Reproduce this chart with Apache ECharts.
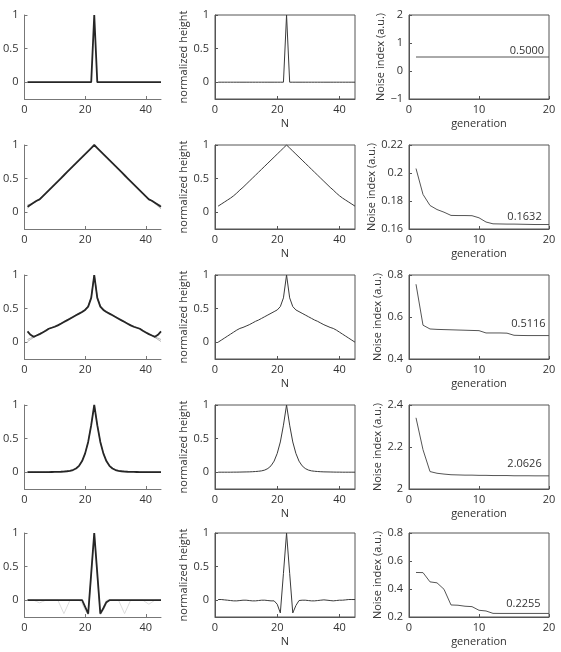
<!DOCTYPE html>
<html>
<head>
<meta charset="utf-8">
<script src="https://cdn.jsdelivr.net/npm/echarts@6/dist/echarts.min.js"></script>
<style>
html, body { margin: 0; padding: 0; background: #fff; }
#chart { width: 561px; height: 652px; }
</style>
</head>
<body>
<div id="chart"></div>
<script>
// sample index N and generation number
const nIdx = [1,2,3,4,5,6,7,8,9,10,11,12,13,14,15,16,17,18,19,20,21,22,23,24,25,26,27,28,29,30,31,32,33,34,35,36,37,38,39,40,41,42,43,44,45];
const genIdx = [1,2,3,4,5,6,7,8,9,10,11,12,13,14,15,16,17,18,19,20];

// tick labels
const ticksN = [0, 20, 40];
const ticksHeight = [0, 0.5, 1];
const ticksGen = [0, 10, 20];
const ticksNoise1 = [-1, 0, 1, 2];
const ticksNoise2 = [0.16, 0.18, 0.2, 0.22];
const ticksNoise3 = [0.4, 0.6, 0.8];
const ticksNoise4 = [2, 2.2, 2.4];
const ticksNoise5 = [0.2, 0.4, 0.6, 0.8];

// row 1 : delta
const best1 = [0,0,0,0,0,0,0,0,0,0,0,0,0,0,0,0,0,0,0,0,0,0,1,0,0,0,0,0,0,0,0,0,0,0,0,0,0,0,0,0,0,0,0,0,0];
const profile1 = [0,0,0,0,0,0,0,0,0,0,0,0,0,0,0,0,0,0,0,0,0,0,1,0,0,0,0,0,0,0,0,0,0,0,0,0,0,0,0,0,0,0,0,0,0];
const noise1 = [0.5,0.5,0.5,0.5,0.5,0.5,0.5,0.5,0.5,0.5,0.5,0.5,0.5,0.5,0.5,0.5,0.5,0.5,0.5,0.5];

// row 2 : triangle
const popA2 = [0.06,0.10,0.14,0.17,0.20,0.24,0.28,0.33,0.37,0.41,0.46,0.50,0.55,0.60,0.64,0.69,0.73,0.78,0.82,0.87,0.91,0.96,1.0,0.96,0.91,0.87,0.82,0.78,0.73,0.69,0.64,0.60,0.55,0.50,0.46,0.41,0.37,0.33,0.28,0.24,0.20,0.17,0.13,0.09,0.05];
const popB2 = [0.11,0.12,0.14,0.16,0.19,0.23,0.28,0.32,0.37,0.42,0.46,0.51,0.55,0.59,0.64,0.68,0.73,0.77,0.82,0.86,0.91,0.95,1.0,0.95,0.91,0.86,0.82,0.77,0.73,0.68,0.64,0.59,0.55,0.51,0.46,0.42,0.37,0.32,0.28,0.23,0.19,0.16,0.14,0.12,0.10];
const best2 = [0.08,0.11,0.14,0.17,0.19,0.235,0.28,0.325,0.37,0.415,0.46,0.505,0.55,0.595,0.64,0.685,0.73,0.775,0.82,0.865,0.91,0.955,1.0,0.955,0.91,0.865,0.82,0.775,0.73,0.685,0.64,0.595,0.55,0.505,0.46,0.415,0.37,0.325,0.28,0.235,0.19,0.17,0.14,0.11,0.08];
const profile2 = [0.09,0.12,0.15,0.18,0.21,0.245,0.285,0.33,0.37,0.415,0.46,0.505,0.55,0.595,0.64,0.685,0.73,0.775,0.82,0.865,0.91,0.955,1.0,0.955,0.91,0.865,0.82,0.775,0.73,0.685,0.64,0.595,0.55,0.505,0.46,0.415,0.37,0.33,0.285,0.245,0.21,0.18,0.15,0.12,0.09];
const noise2 = [0.2032,0.1847,0.1768,0.1739,0.1720,0.1697,0.1696,0.1696,0.1695,0.1680,0.1650,0.1637,0.1636,0.1635,0.1635,0.1634,0.1633,0.1632,0.1632,0.1632];

// row 3 : cusp
const popA3 = [0.01,0.04,0.07,0.10,0.12,0.145,0.17,0.20,0.215,0.23,0.25,0.275,0.30,0.325,0.35,0.375,0.40,0.425,0.455,0.49,0.54,0.67,1.0,0.67,0.54,0.49,0.455,0.425,0.40,0.375,0.35,0.325,0.30,0.275,0.25,0.23,0.215,0.20,0.17,0.145,0.12,0.10,0.07,0.04,0.01];
const popB3 = [0.04,0.06,0.08,0.105,0.13,0.15,0.18,0.205,0.22,0.24,0.26,0.28,0.31,0.33,0.36,0.38,0.41,0.43,0.46,0.49,0.54,0.66,1.0,0.66,0.54,0.49,0.46,0.43,0.41,0.38,0.36,0.33,0.31,0.28,0.26,0.24,0.22,0.205,0.18,0.15,0.13,0.105,0.08,0.06,0.04];
const best3 = [0.16,0.11,0.08,0.10,0.12,0.145,0.17,0.20,0.215,0.23,0.25,0.275,0.30,0.325,0.35,0.375,0.40,0.425,0.45,0.48,0.53,0.66,1.0,0.66,0.53,0.48,0.45,0.425,0.40,0.375,0.35,0.325,0.30,0.275,0.25,0.23,0.215,0.20,0.17,0.145,0.12,0.10,0.08,0.11,0.16];
const profile3 = [0.0,0.03,0.06,0.09,0.12,0.15,0.18,0.205,0.22,0.24,0.26,0.285,0.31,0.33,0.355,0.38,0.405,0.43,0.455,0.48,0.53,0.66,1.0,0.66,0.53,0.48,0.455,0.43,0.405,0.38,0.355,0.33,0.31,0.285,0.26,0.24,0.22,0.205,0.18,0.15,0.12,0.09,0.06,0.03,0.0];
const noise3 = [0.756,0.561,0.543,0.541,0.540,0.539,0.538,0.537,0.536,0.535,0.524,0.524,0.524,0.523,0.513,0.512,0.5116,0.5116,0.5116,0.5116];

// row 4 : lorentzian-like peak
const popA4 = [0.004,0.004,0.004,0.004,0.004,0.005,0.005,0.006,0.007,0.008,0.009,0.011,0.014,0.018,0.025,0.037,0.06,0.1,0.17,0.285,0.455,0.7,1.0,0.7,0.455,0.285,0.17,0.1,0.06,0.037,0.025,0.018,0.014,0.011,0.009,0.008,0.007,0.006,0.005,0.005,0.004,0.004,0.004,0.004,0.004];
const best4 = [0.0,0.0,0.0,0.0,0.0,0.001,0.001,0.002,0.003,0.004,0.005,0.007,0.01,0.014,0.02,0.032,0.055,0.095,0.165,0.28,0.45,0.7,1.0,0.7,0.45,0.28,0.165,0.095,0.055,0.032,0.02,0.014,0.01,0.007,0.005,0.004,0.003,0.002,0.001,0.001,0.0,0.0,0.0,0.0,0.0];
const profile4 = [0.0,0.0,0.0,0.0,0.0,0.001,0.001,0.002,0.003,0.004,0.005,0.007,0.01,0.014,0.02,0.032,0.055,0.095,0.165,0.28,0.45,0.7,1.0,0.7,0.45,0.28,0.165,0.095,0.055,0.032,0.02,0.014,0.01,0.007,0.005,0.004,0.003,0.002,0.001,0.001,0.0,0.0,0.0,0.0,0.0];
const noise4 = [2.339,2.187,2.083,2.075,2.071,2.068,2.067,2.066,2.066,2.065,2.065,2.064,2.064,2.064,2.063,2.063,2.063,2.0626,2.0626,2.0626];

// row 5 : peak with negative side lobes
const popA5 = [0,0,0,0,0,0,0,0,0,0,0,-0.1,-0.2,-0.1,0,0,0,0,0,-0.1,-0.2,0.4,1.0,0.4,-0.2,-0.1,0,0,0,0,0,-0.1,-0.2,-0.1,0,0,0,0,0,0,0,0,0,0,0];
const popB5 = [0,0,0,-0.02,-0.04,-0.02,0,0,0,0,0,0,0,0,0,0,0,0,-0.05,-0.15,-0.22,0.35,1.0,0.35,-0.22,-0.15,-0.05,0,0,0,0,0,0,0,0,0,0,0,0,-0.03,-0.06,-0.03,0,0,0];
const best5 = [0,0,0,0,0,0,0,0,0,0,0,0,0,0,0,0,0,0,0.0,-0.1,-0.2,0.4,1.0,0.4,-0.2,-0.12,-0.03,0,0,0,0,0,0,0,0,0,0,0,0,0,0,0,0,0,0];
const profile5 = [0.01,0.01,0.005,0.0,-0.005,-0.01,-0.01,-0.005,0.0,0.0,-0.005,-0.01,-0.01,-0.005,0.0,0.0,-0.005,-0.01,-0.01,-0.06,-0.19,0.4,1.0,0.4,-0.19,-0.08,-0.005,0.0,0.0,-0.005,-0.01,-0.01,-0.005,0.0,0.005,0.0,-0.005,-0.01,-0.005,0.0,0.0,0.005,0.01,0.01,0.01];
const noise5 = [0.518,0.517,0.451,0.444,0.398,0.286,0.284,0.277,0.274,0.248,0.243,0.226,0.2255,0.2255,0.2255,0.2255,0.2255,0.2255,0.2255,0.2255];

const rows = [
	{ pop: [], best: best1, profile: profile1, noise: noise1, ticks: ticksNoise1 },
	{ pop: [popA2, popB2], best: best2, profile: profile2, noise: noise2, ticks: ticksNoise2 },
	{ pop: [popA3, popB3], best: best3, profile: profile3, noise: noise3, ticks: ticksNoise3 },
	{ pop: [popA4], best: best4, profile: profile4, noise: noise4, ticks: ticksNoise4 },
	{ pop: [popA5, popB5], best: best5, profile: profile5, noise: noise5, ticks: ticksNoise5 },
];

// where the final noise value is written (data coords of the text's left/middle)
const notePos = [[14.4, 0.73], [14.05, 0.1686], [14.6, 0.569], [14.05, 2.12], [13.9, 0.2956]];

const FONT = 'Open Sans';
const TXT = '#333';
const rowTops = [15, 145, 275, 405, 533];
const colLefts = [21, 215, 409];
const plotW = 140;
const plotH = 84;

const grid = [], xAxis = [], yAxis = [], series = [];

const pairs = (xs, ys) => xs.map((x, i) => [x, ys[i]]);
const fmtTick = (v) => String(v).replace('-', '\u2212');

rows.forEach((row, r) => {
	for (let c = 0; c < 3; c++) {
		const boxed = c > 0;
		grid.push({
			left: colLefts[c], top: rowTops[r], width: plotW, height: plotH,
			show: boxed, borderColor: '#555', borderWidth: 1, backgroundColor: 'transparent',
		});
		const lineCol = boxed ? '#555' : '#777';
		const isGen = c === 2;
		xAxis.push({
			type: 'value', gridIndex: grid.length - 1,
			min: 0, max: isGen ? 20 : 45,
			name: c === 1 ? 'N' : (c === 2 ? 'generation' : ''),
			nameLocation: 'middle', nameGap: 19,
			nameTextStyle: { fontFamily: FONT, fontSize: 11, color: TXT },
			axisLine: { show: true, onZero: false, lineStyle: { color: lineCol, width: 1 } },
			axisTick: { show: true, inside: true, length: 3, customValues: isGen ? ticksGen : ticksN, lineStyle: { color: lineCol } },
			axisLabel: { customValues: isGen ? ticksGen : ticksN, margin: 5, fontFamily: FONT, fontSize: 11, color: TXT, formatter: fmtTick },
			splitLine: { show: false },
		});
		const yt = isGen ? row.ticks : ticksHeight;
		yAxis.push({
			type: 'value', gridIndex: grid.length - 1,
			min: isGen ? row.ticks[0] : -0.25,
			max: isGen ? row.ticks[row.ticks.length - 1] : 1,
			name: c === 1 ? 'normalized height' : (c === 2 ? 'Noise index (a.u.)' : ''),
			nameLocation: 'middle', nameGap: c === 1 ? 24 : 22,
			nameTextStyle: { fontFamily: FONT, fontSize: 11, color: TXT },
			axisLine: { show: true, onZero: false, lineStyle: { color: lineCol, width: 1 } },
			axisTick: { show: true, inside: true, length: 3, customValues: yt, lineStyle: { color: lineCol } },
			axisLabel: { customValues: yt, margin: 6, fontFamily: FONT, fontSize: 11, color: TXT, formatter: fmtTick },
			splitLine: { show: false },
		});
	}
	const base = r * 3;
	row.pop.forEach((p) => {
		series.push({
			type: 'line', xAxisIndex: base, yAxisIndex: base, data: pairs(nIdx, p),
			showSymbol: false, lineStyle: { color: r === 4 ? '#dcdcdc' : '#b8b8b8', width: 1 },
			silent: true,
		});
	});
	series.push({
		type: 'line', xAxisIndex: base, yAxisIndex: base, data: pairs(nIdx, row.best),
		showSymbol: false, lineStyle: { color: '#262626', width: 1.8 }, silent: true,
	});
	series.push({
		type: 'line', xAxisIndex: base + 1, yAxisIndex: base + 1, data: pairs(nIdx, row.profile),
		showSymbol: false, lineStyle: { color: '#3a3a3a', width: 1 }, silent: true,
	});
	const finalTxt = row.noise[row.noise.length - 1].toFixed(4);
	series.push({
		type: 'line', xAxisIndex: base + 2, yAxisIndex: base + 2, data: pairs(genIdx, row.noise),
		showSymbol: false, lineStyle: { color: '#555', width: 1 }, silent: true,
		markPoint: {
			symbol: 'circle', symbolSize: 0, silent: true,
			data: [{ coord: notePos[r], value: 0 }],
			label: {
				show: true, position: 'right', distance: 0,
				formatter: () => finalTxt,
				fontFamily: FONT, fontSize: 11, color: TXT,
			},
		},
	});
});

const chart = echarts.init(document.getElementById('chart'), null, { renderer: 'canvas' });
chart.setOption({
	animation: false,
	backgroundColor: '#fff',
	grid, xAxis, yAxis, series,
});
</script>
</body>
</html>
